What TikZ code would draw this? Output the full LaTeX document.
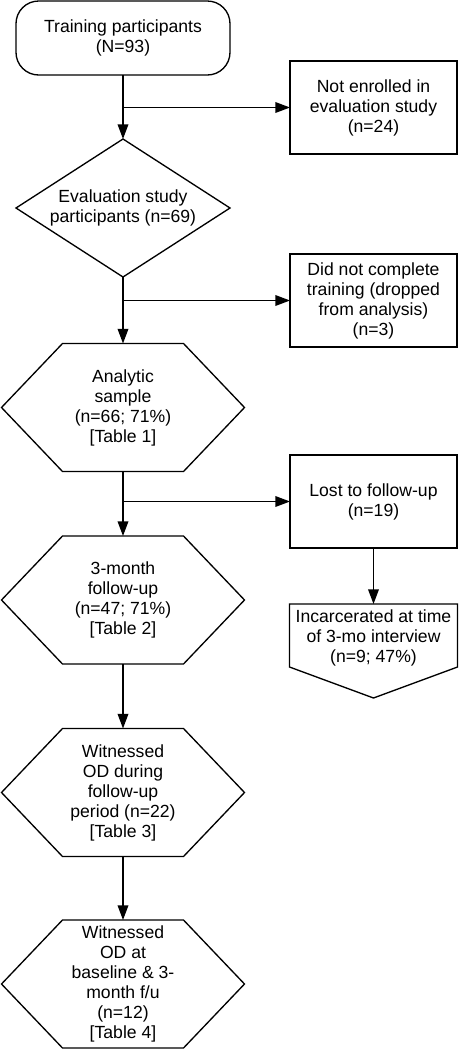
\documentclass[tikz,border=0pt]{standalone}
\usepackage{fontspec}
\setmainfont{Liberation Sans}
\usetikzlibrary{arrows.meta,calc}
\newcommand\hexpath[1]{\draw (#1.west) -- ($(#1.north west)+(61,0)$) -- ($(#1.north east)+(-61,0)$) -- (#1.east) -- ($(#1.south east)+(-61,0)$) -- ($(#1.south west)+(61,0)$) -- cycle;}
\begin{document}
\begin{tikzpicture}[x=0.75pt,y=-0.75pt,line width=1pt,
  txt/.style={font=\fontsize{13.2}{15}\selectfont, align=center, inner sep=0pt, outer sep=0pt},
  term/.style={txt, draw, rounded corners=17pt, minimum width=160.5pt, minimum height=55.5pt},
  box/.style={txt, draw, minimum width=125.25pt, minimum height=69.75pt},
  hexnode/.style={txt, minimum width=182.25pt, minimum height=96pt},
  arr/.style={-{Triangle[length=11pt,width=8pt]}}]
\useasboundingbox (0,0) rectangle (458,1050);
% main column
\node[term] (t) at (123,38) {Training participants\\(N=93)};
\node[txt, minimum width=160.5pt, minimum height=103.5pt] (d) at (123,208) {Evaluation study\\participants (n=69)};
\draw (d.north) -- (d.east) -- (d.south) -- (d.west) -- cycle;
\node[hexnode] (h1) at (123,407.5) {Analytic\\sample\\(n=66; 71\%)\\{[Table 1]}};
\hexpath{h1}
\node[hexnode] (h2) at (123,600) {3-month\\follow-up\\(n=47; 71\%)\\{[Table 2]}};
\hexpath{h2}
\node[hexnode] (h3) at (123,792.5) {Witnessed\\OD during\\follow-up\\period (n=22)\\{[Table 3]}};
\hexpath{h3}
\node[hexnode] (h4) at (123,984) {Witnessed\\OD at\\baseline \& 3-\\month f/u\\(n=12)\\{[Table 4]}};
\hexpath{h4}
% side column
\node[box] (b1) at (373.5,107.5) {Not enrolled in\\evaluation study\\(n=24)};
\node[box] (b2) at (373.5,300.5) {Did not complete\\training (dropped\\from analysis)\\(n=3)};
\node[box] (b3) at (373.5,501.5) {Lost to follow-up\\(n=19)};
\node[txt, minimum width=126pt, minimum height=70.5pt] (p) at (373.5,651) {};
\draw (p.north west) -- (p.north east) -- ($(p.south east)+(0,-31)$) -- (p.south) -- ($(p.south west)+(0,-31)$) -- cycle;
\node[txt] (pt) at (373.5,637.5) {Incarcerated at time\\of 3-mo interview\\(n=9; 47\%)};
% connectors
\coordinate (j1) at (t.south |- b1.west);
\coordinate (j2) at (d.south |- b2.west);
\coordinate (j3) at (h1.south |- b3.west);
\draw[arr] (t.south) -- (d.north);
\draw[arr] (j1) -- (b1.west);
\draw[arr] (d.south) -- (h1.north);
\draw[arr] (j2) -- (b2.west);
\draw[arr] (h1.south) -- (h2.north);
\draw[arr] (j3) -- (b3.west);
\draw[arr] (b3.south) -- (p.north);
\draw[arr] (h2.south) -- (h3.north);
\draw[arr] (h3.south) -- (h4.north);
\end{tikzpicture}
\end{document}
